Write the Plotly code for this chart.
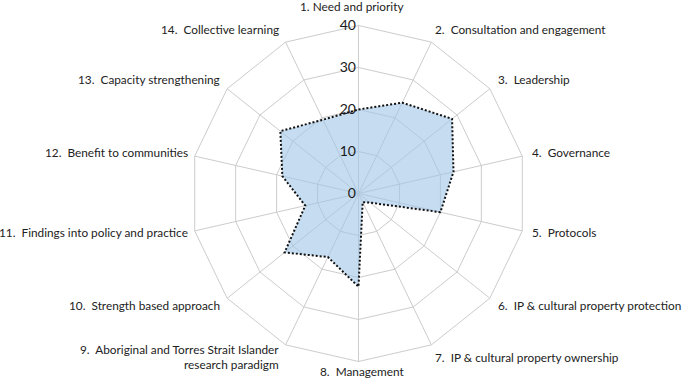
import math
import plotly.graph_objects as go

NB = "\u00a0"
categories = [
    "1. Need and priority",
    "2." + NB + " Consultation and engagement",
    "3." + NB + " Leadership",
    "4." + NB + " Governance",
    "5." + NB + " Protocols",
    "6." + NB + " IP & cultural property protection",
    "7." + NB + " IP & cultural property ownership",
    "8." + NB + " Management",
    "9." + NB + " Aboriginal and Torres Strait Islander<br>research paradigm",
    "10." + NB + " Strength based approach",
    "11." + NB + " Findings into policy and practice",
    "12." + NB + " Benefit to communities",
    "13." + NB + " Capacity strengthening",
    "14." + NB + " Collective learning",
]
values = [20, 24, 28.5, 23.2, 20, 3.5, 2.3, 22.2, 16.8, 22.5, 13, 18.6, 23.8, 19.5]
radial_ticks = [0, 10, 20, 30, 40]

W, H = 685, 379
CX, CY, R = 358.5, 193.5, 168.0  # polar centre / outer radius in pixels

fig = go.Figure()
fig.add_trace(go.Scatterpolar(
    r=values + values[:1],
    theta=categories + categories[:1],
    mode="lines",
    fill="toself",
    fillcolor="rgba(160,199,232,0.6)",
    line=dict(color="#111111", width=2, dash="2px,2px"),
    hoverinfo="skip",
))

# category labels placed just outside the outer polygon
annotations = []
n = len(categories)
for i, lab in enumerate(categories):
    a = 2 * math.pi * i / n
    sx, sy = math.sin(a), -math.cos(a)
    if sx > 0.05:
        xa, dx = "left", 12 * sx - 1.5
    elif sx < -0.05:
        xa, dx = "right", -7
    else:
        xa, dx = "center", 0
    dy = 12.5 * sy - 1
    if 0.8 < sy < 0.99:
        dy += 2
    if sy > 0.99:
        dy, dx = 9.5, 3
    if sy < -0.99:
        dy -= 6
        dx -= 6.6
    px = CX + R * sx + dx
    py = CY + R * sy + dy
    annotations.append(dict(
        x=px / W, y=1 - py / H, xref="paper", yref="paper",
        text=lab, showarrow=False, xanchor=xa, yanchor="middle",
        align=xa, borderpad=0, borderwidth=0,
        font=dict(size=11.8, color="#222222"),
    ))

fig.update_layout(
    width=W, height=H,
    margin=dict(l=0, r=0, t=0, b=0),
    paper_bgcolor="white",
    showlegend=False,
    font=dict(family="Lato, Roboto, sans-serif", color="#222222"),
    annotations=annotations,
    polar=dict(
        domain=dict(x=[(CX - R) / W, (CX + R) / W], y=[1 - (CY + R) / H, 1 - (CY - R) / H]),
        gridshape="linear",
        bgcolor="white",
        angularaxis=dict(
            direction="clockwise",
            rotation=90,
            showline=True,
            linecolor="#cccccc",
            linewidth=1,
            gridcolor="#cccccc",
            gridwidth=1,
            ticks="",
            showticklabels=False,
        ),
        radialaxis=dict(
            range=[0, 40],
            tickvals=radial_ticks,
            ticktext=[str(v) for v in radial_ticks],
            angle=90,
            tickangle=90,
            showline=False,
            gridcolor="#cccccc",
            gridwidth=1,
            ticks="",
            tickfont=dict(size=14, color="#1a1a1a"),
            side="counterclockwise",
        ),
    ),
)

fig.write_html(
    "out.html",
    config={"displayModeBar": False},
    post_script="document.body.style.margin='0px';document.body.style.overflow='hidden';",
)
